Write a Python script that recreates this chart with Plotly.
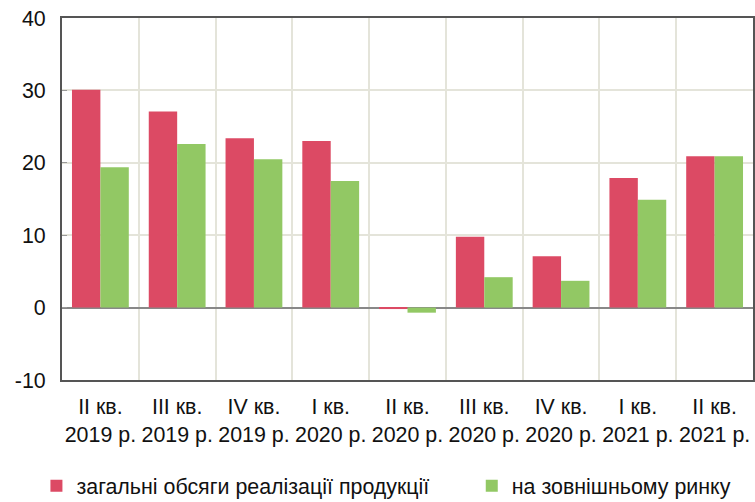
import plotly.graph_objects as go

categories = ["II кв.<br>2019 р.", "III кв.<br>2019 р.", "IV кв.<br>2019 р.", "I кв.<br>2020 р.",
              "II кв.<br>2020 р.", "III кв.<br>2020 р.", "IV кв.<br>2020 р.", "I кв.<br>2021 р.",
              "II кв.<br>2021 р."]
total_sales = [30.1, 27.1, 23.4, 23.0, -0.2, 9.8, 7.1, 17.9, 20.9]
external_market = [19.4, 22.6, 20.5, 17.5, -0.7, 4.2, 3.7, 14.9, 20.9]
series_names = ["загальні обсяги реалізації продукції", "на зовнішньому ринку"]
y_ticks = [-10, 0, 10, 20, 30, 40]
y_tick_labels = ["-10", "0", "10", "20", "30", "40"]

fig = go.Figure()
fig.add_trace(go.Bar(x=categories, y=total_sales, name=series_names[0],
                     marker=dict(color="#dc4a64", line=dict(width=0)), legend="legend"))
fig.add_trace(go.Bar(x=categories, y=external_market, name=series_names[1],
                     marker=dict(color="#92c864", line=dict(width=0)), legend="legend2"))

FS = 21.4
leg_common = dict(orientation="h", yanchor="top", y=-0.236, itemwidth=30,
                  font=dict(size=FS), bgcolor="rgba(0,0,0,0)")
fig.update_layout(
    width=755, height=502,
    margin=dict(l=62, r=2, t=18, b=122, autoexpand=False),
    paper_bgcolor="white", plot_bgcolor="white",
    font=dict(family="Liberation Sans, Arial, sans-serif", size=FS, color="#111"),
    barmode="group", bargap=0.26, bargroupgap=0,
    legend=dict(x=-0.037, xanchor="left", **leg_common),
    legend2=dict(x=0.593, xanchor="left", **leg_common),
    showlegend=True,
)
fig.update_xaxes(type="category", tickson="boundaries", showgrid=True, gridcolor="#e4e4da",
                 gridwidth=1.5, showline=True, linecolor="#555", linewidth=2, mirror=True,
                 ticks="", tickfont=dict(size=FS), tickangle=0, ticklabelstandoff=6)
fig.update_yaxes(range=[-10, 40], tickvals=y_ticks, ticktext=y_tick_labels, showgrid=True,
                 gridcolor="#e4e4da", gridwidth=1.5, showline=True, linecolor="#555",
                 linewidth=2, mirror=True,
                 zeroline=True, zerolinecolor="#888", zerolinewidth=1.5,
                 ticks="inside", ticklen=5, tickcolor="#999", tickfont=dict(size=FS),
                 ticklabelstandoff=10)

fig.write_html("out.html", config={"displayModeBar": False},
               post_script="document.body.style.margin='0';")
